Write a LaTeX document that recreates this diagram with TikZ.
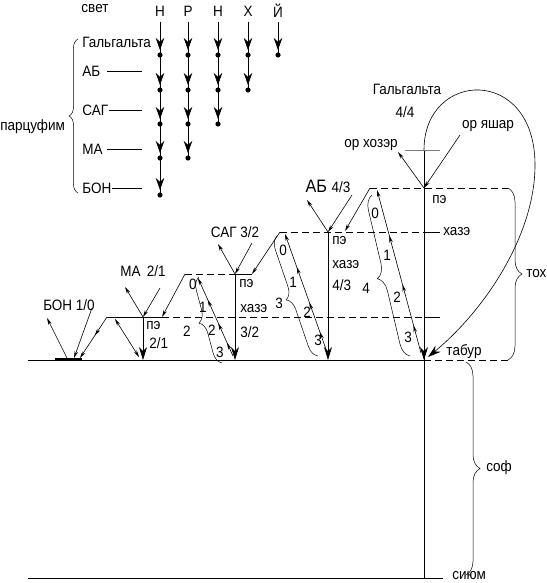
\documentclass[tikz,border=0pt]{standalone}
\usepackage{fontspec}
\setmainfont{Liberation Sans}[FakeStretch=0.9]
\usetikzlibrary{arrows.meta,decorations.pathreplacing,decorations.markings}
\begin{document}
\begin{tikzpicture}[x=1pt,y=-1pt,line width=0.6pt,
  txt/.style={inner sep=0pt,font=\fontsize{15}{15}\selectfont},
  sarr/.style={-{Stealth[length=7pt,width=3.5pt]}},
  barr/.style={-{Stealth[length=13pt,width=8pt]}},
  carr/.style={-{Stealth[length=12pt,width=8.5pt]}},
  dsh/.style={dash pattern=on 7pt off 4pt},
  brc/.style={decorate,decoration={brace,amplitude=#1},line width=0.5pt},
  midarr/.style={postaction={decorate,decoration={markings,
     mark=at position 0.45 with {\arrow{Stealth[length=7pt,width=3.5pt]}}}}},
  climb/.style={-{Stealth[length=7pt,width=3.5pt]},postaction={decorate,decoration={markings,
     mark=at position 0.17 with {\arrow{Stealth[length=7pt,width=3.5pt]}},
     mark=at position 0.42 with {\arrow{Stealth[length=7pt,width=3.5pt]}},
     mark=at position 0.72 with {\arrow{Stealth[length=7pt,width=3.5pt]}}}}},
]
\useasboundingbox (0,0) rectangle (546,583);

% ---------- upper-left table ----------
\node[txt] (svet) at (95,9) {свет};
\node[txt] (hN) at (160,11) {Н};
\node[txt] (hR) at (188,11) {Р};
\node[txt] (hN2) at (218,11) {Н};
\node[txt] (hH) at (248,11) {Х};
\node[txt] (hY) at (278,11) {Й};

\node[txt,anchor=west] (rGal) at (82,42) {Гальгальта};
\node[txt,anchor=west] (rAB) at (82,71) {АБ};
\node[txt,anchor=west] (rSAG) at (82,110) {САГ};
\node[txt,anchor=west] (rMA) at (82,149) {МА};
\node[txt,anchor=west] (rBON) at (82,188) {БОН};
\draw[line width=0.5pt] (107,71) -- (142,71);
\draw[line width=0.5pt] (109,110) -- (142,110);
\draw[line width=0.5pt] (107,149) -- (142,149);
\draw[line width=0.5pt] (112,188) -- (142,188);

\draw[brc=9pt] (78,193) -- (78,39);
\node[txt,anchor=west] (parc) at (0,127) {парцуфим};

\foreach \x/\last/\r in {160/195/{55,90,124,158,195},188/158/{55,90,124,158},218/124/{55,90,124},248/90/{55,90},278/55/{55}} {
  \draw[line width=0.5pt] (\x,22) -- (\x,\last);
  \foreach \y in \r {
    \draw[carr] (\x,\y-18) -- (\x,\y-5);
    \fill (\x,\y) circle (2.6pt);
  }
}

% ---------- key points ----------
\coordinate (Vb) at (72,360);
\coordinate (Vm) at (143,317);
\coordinate (Lm) at (107,317);
\coordinate (Rm) at (162,317);
\coordinate (Vs) at (235,274);
\coordinate (Ls) at (185,274);
\coordinate (Rs) at (252,274);
\coordinate (Va) at (328,232);
\coordinate (La) at (280,232);
\coordinate (Ra) at (345,231);
\coordinate (Vg) at (424,188);
\coordinate (Lg) at (370,188);

% ---------- base lines ----------
\draw (28,360) -- (424,360);
\draw[dsh] (424,360) -- (508,360);
\draw (28,578) -- (443,578);
\draw (424,150) -- (424,578);

% ---------- levels ----------
\draw[dsh] (Lg) -- (508,188);
\draw[dsh] (La) -- (424,232);
\draw (424,232) -- (440,232);
\draw[dsh] (Ls) -- (Vs);
\draw (Vs) -- (Rs);
\draw (Lm) -- (Rm);
\draw[dsh] (Rm) -- (424,317);
\draw (424,317) -- (440,317);
\draw[gray] (405,150) -- (440,150);

% ---------- BON ----------
\draw[line width=2.5pt] (55,359) -- (82,359);
\draw[sarr] (68,360) -- (47,318);
\draw[sarr] (92,308) -- (74,358);
\draw[sarr,midarr] (Lm) -- (80,358);
\node[txt] (bon) at (69,305) {БОН 1/0};

% ---------- MA ----------
\draw[sarr] (Vm) -- (125,287);
\draw[sarr] (160,288) -- (Vm);
\draw[barr] (Vm) -- (143,360);
\draw[{Stealth[length=7pt,width=3.5pt]}-{Stealth[length=7pt,width=3.5pt]}] (115,319) -- (139,357);
\node[txt] (ma) at (143,271) {МА\, 2/1};
\node[txt,anchor=west] (mape) at (146,326) {пэ};
\node[txt,anchor=west] (mafr) at (149,343) {2/1};

% ---------- SAG ----------
\draw[sarr] (Ls) -- (Rm);
\draw[sarr] (Vs) -- (218,244);
\draw[sarr] (252,243) -- (Vs);
\draw[barr] (Vs) -- (235,360);
\node[txt] (sag) at (235,232) {САГ 3/2};
\node[txt,anchor=west] (sagpe) at (239,284) {пэ};
\node[txt,anchor=west] (sagch) at (240,309) {хазэ};
\node[txt,anchor=west] (sagfr) at (240,332) {3/2};
\draw[climb] (233,356) -- (198,278);
\draw[brc=12pt] (222,363) -- (199,277);
\node[txt] (s0) at (193,284) {0};
\node[txt] (s1) at (203,307) {1};
\node[txt] (s2) at (212,330) {2};
\node[txt] (s3) at (220,352) {3};
\node[txt] (sb) at (187,331) {2};

% ---------- AB ----------
\draw[sarr] (La) -- (Rs);
\draw[sarr] (Va) -- (307,200);
\draw[sarr] (352,195) -- (Va);
\draw[barr] (Va) -- (328,360);
\node[txt] (ab) at (328,186) {\fontsize{18}{18}\selectfont АБ \fontsize{15}{15}\selectfont 4/3};
\node[txt,anchor=west] (abpe) at (332,241) {пэ};
\node[txt,anchor=west] (abch) at (332,265) {хазэ};
\node[txt,anchor=west] (abfr) at (332,285) {4/3};
\draw[climb] (327,352) -- (285,234);
\draw[brc=12pt] (318,356) -- (277,236);
\node[txt] (a0) at (283,250) {0};
\node[txt] (a1) at (293,282) {1};
\node[txt] (a2) at (307,312) {2};
\node[txt] (a3) at (318,340) {3};
\node[txt] (ab3) at (279,303) {3};

% ---------- Galgalta ----------
\draw[sarr] (Lg) -- (Ra);
\draw[sarr] (Vg) -- (398,152);
\draw[sarr] (460,135) -- (Vg);
\draw[barr] (Vg) -- (424,360);
\draw[barr] (424,150) .. controls (424,70) and (535,65) .. (535,165) .. controls (535,235) and (485,310) .. (428,357);
\node[txt] (gal) at (407,89) {Гальгальта};
\node[txt] (galfr) at (405,112) {4/4};
\node[txt] (orh) at (371,145) {ор хозэр};
\node[txt] (ory) at (488,126) {ор яшар};
\node[txt,anchor=west] (galpe) at (432,200) {пэ};
\node[txt,anchor=west] (galch) at (443,232) {хазэ};
\draw[climb] (421,353) -- (377,190);
\draw[brc=14pt] (410,356) -- (372,195);
\node[txt] (g0) at (375,213) {0};
\node[txt] (g1) at (387,255) {1};
\node[txt] (g2) at (397,297) {2};
\node[txt] (g3) at (408,337) {3};
\node[txt] (g4) at (366,288) {4};

% ---------- right braces ----------
\draw[brc=14pt] (508,188) -- (508,360);
\node[txt,anchor=west] (tox) at (526,274) {тох};
\draw[brc=14pt] (466,362) -- (466,575);
\node[txt,anchor=west] (sof) at (486,468) {соф};
\node[txt] (tabur) at (464,352) {табур};
\node[txt,anchor=west] (siyum) at (452,576) {сиюм};
\end{tikzpicture}
\end{document}
